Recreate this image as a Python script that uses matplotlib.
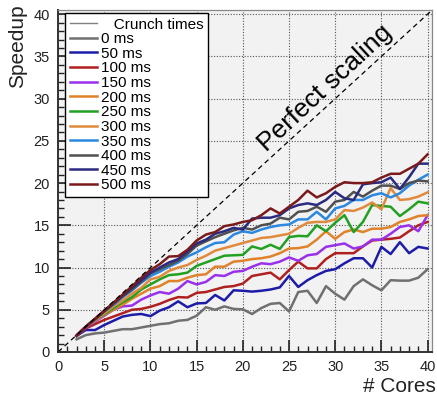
import numpy as np
import matplotlib
matplotlib.use("Agg")
import matplotlib.pyplot as plt
from matplotlib.ticker import MultipleLocator

plt.rcParams['font.family'] = ['Liberation Sans', 'DejaVu Sans']

cores = list(range(2, 41))

labels = ["0 ms", "50 ms", "100 ms", "150 ms", "200 ms", "250 ms",
          "300 ms", "350 ms", "400 ms", "450 ms", "500 ms"]
colors = ["#707070", "#1c1ca8", "#b02020", "#9a30ea", "#e0822a", "#22a022",
          "#e08a3c", "#2a88e0", "#505050", "#2a2a80", "#7a1a1a"]

speedup_0 = [1.5, 2.0, 2.2, 2.3, 2.5, 2.7, 2.7, 2.9, 3.1, 3.3, 3.4, 3.7, 3.8, 4.3, 5.3,
             5.0, 5.4, 5.1, 5.05, 4.5, 5.2, 5.7, 5.8, 4.8, 7.1, 7.25, 5.8, 7.8, 6.9,
             6.2, 7.8, 8.6, 7.9, 7.3, 8.5, 8.45, 8.45, 8.8, 9.8]
speedup_50 = [1.9, 2.6, 2.6, 3.2, 3.7, 4.2, 4.4, 4.5, 4.25, 4.9, 5.3, 6.0, 5.3, 5.75,
              5.8, 6.75, 6.1, 7.3, 7.25, 7.15, 7.25, 7.4, 7.65, 9.0, 7.7, 8.5, 9.1,
              9.6, 9.8, 10.5, 11.1, 11.1, 10.0, 12.45, 11.6, 13.0, 11.7, 12.45, 12.25]
speedup_100 = [1.9, 2.8, 3.3, 3.8, 4.2, 4.6, 5.0, 5.1, 5.35, 5.7, 6.15, 6.5, 6.45, 7.0,
               7.1, 7.4, 7.7, 7.8, 8.1, 9.0, 9.2, 9.4, 8.6, 9.7, 10.7, 9.9, 9.9, 11.0,
               11.7, 11.7, 11.7, 12.5, 13.2, 13.3, 13.4, 13.55, 14.3, 15.0, 15.4]
speedup_150 = [1.9, 2.9, 3.6, 4.3, 5.0, 5.4, 5.5, 6.2, 6.7, 7.1, 6.9, 7.5, 8.4, 8.0,
               8.3, 9.1, 9.0, 9.5, 9.6, 10.1, 10.5, 10.4, 10.7, 11.2, 10.8, 11.45,
               11.6, 12.45, 12.65, 12.85, 12.25, 12.5, 13.3, 13.3, 14.0, 14.8, 15.0,
               14.3, 16.2]
speedup_200 = [1.9, 3.0, 3.7, 4.4, 5.0, 5.6, 6.3, 6.9, 7.5, 7.8, 8.4, 8.4, 8.8, 9.1,
               9.2, 10.1, 10.1, 10.7, 10.8, 11.0, 11.1, 11.3, 11.7, 12.25, 12.3, 12.5,
               13.3, 14.3, 13.4, 14.2, 14.5, 14.2, 14.6, 14.6, 14.8, 15.4, 15.7, 16.1,
               16.2]
speedup_250 = [1.9, 3.0, 3.8, 4.5, 5.2, 5.9, 6.5, 7.4, 8.0, 8.6, 9.1, 9.2, 9.4, 10.2,
               10.6, 11.0, 11.4, 11.45, 11.5, 12.5, 12.2, 12.7, 12.2, 13.6, 13.75,
               13.7, 15.0, 14.3, 15.3, 16.2, 14.2, 15.4, 17.4, 17.3, 17.2, 16.1, 16.9,
               17.8, 17.6]
speedup_300 = [1.95, 3.0, 3.8, 4.6, 5.4, 6.1, 6.9, 7.6, 8.6, 8.9, 9.6, 10.0, 10.3,
               10.9, 11.4, 12.0, 12.3, 12.6, 12.9, 13.2, 13.5, 13.6, 13.8, 14.0, 14.7,
               15.3, 15.4, 15.4, 15.7, 16.8, 16.7, 17.1, 17.7, 16.9, 19.4, 18.0, 18.1,
               18.4, 18.9]
speedup_350 = [1.95, 3.0, 3.9, 4.8, 5.6, 6.5, 7.3, 8.2, 9.0, 9.5, 10.1, 10.6, 11.3,
               11.8, 12.4, 12.9, 13.0, 13.9, 14.3, 14.1, 14.5, 14.8, 15.0, 15.1, 15.7,
               15.7, 16.6, 15.7, 17.0, 17.3, 18.0, 18.0, 18.55, 18.8, 18.3, 18.8,
               19.7, 20.4, 21.0]
speedup_400 = [1.95, 3.0, 3.9, 4.8, 5.7, 6.6, 7.4, 8.3, 9.3, 9.8, 10.3, 10.8, 11.6,
               12.6, 13.1, 13.6, 14.0, 14.4, 14.7, 14.5, 15.0, 15.2, 15.9, 15.7, 16.6,
               16.7, 17.2, 16.6, 17.8, 18.0, 18.95, 18.4, 19.1, 19.7, 19.7, 19.3,
               20.0, 20.3, 20.2]
speedup_450 = [1.95, 3.0, 3.9, 4.85, 5.8, 6.7, 7.6, 8.5, 9.4, 10.0, 10.6, 11.0, 11.9,
               12.85, 13.3, 14.0, 14.3, 14.7, 14.5, 15.8, 15.9, 15.9, 16.2, 17.0, 17.4,
               17.6, 17.4, 18.0, 18.95, 18.2, 18.0, 19.85, 20.0, 20.1, 20.65, 19.3,
               20.7, 22.3, 22.3]
speedup_500 = [1.95, 3.0, 3.95, 4.9, 5.85, 6.8, 7.8, 8.8, 9.7, 10.4, 11.3, 11.35,
               12.1, 13.2, 13.9, 14.2, 14.9, 15.1, 15.4, 15.6, 16.2, 17.0, 16.4, 17.2,
               18.0, 19.1, 18.3, 18.8, 19.55, 20.1, 20.0, 20.0, 20.1, 20.65, 21.1,
               21.1, 21.7, 22.3, 23.4]

series = [speedup_0, speedup_50, speedup_100, speedup_150, speedup_200, speedup_250,
          speedup_300, speedup_350, speedup_400, speedup_450, speedup_500]

fig = plt.figure(figsize=(4.37, 3.98), dpi=100)
ax = fig.add_axes([0.133, 0.1156, 0.856, 0.8594])
ax.set_facecolor("#f2f2f2")

# header entry of the legend
ax.plot([], [], color="#808080", lw=1.0, label="   Crunch times")
for vals, lab, col in zip(series, labels, colors):
    ax.plot(cores, vals, color=col, lw=1.8, label=lab)

diag = np.array([0, 40.5])
ax.plot(diag, diag, color="black", lw=0.9, ls=(0, (4, 3)))
ax.text(28.9, 31.2, "Perfect scaling", rotation=43, fontsize=19,
        ha="center", va="center", rotation_mode="anchor")

ax.set_xlim(0, 40.5)
ax.set_ylim(0, 40.5)
ax.xaxis.set_major_locator(MultipleLocator(5))
ax.xaxis.set_minor_locator(MultipleLocator(1))
ax.yaxis.set_major_locator(MultipleLocator(5))
ax.yaxis.set_minor_locator(MultipleLocator(1))
ax.tick_params(which="major", direction="in", length=9, width=1.2, labelsize=10.5,
               colors="#222222", pad=6)
ax.tick_params(which="minor", direction="in", length=4.5, width=1.0, colors="#222222")
ax.grid(True, which="major", ls=(0, (1, 1.5)), color="#555555", lw=0.8)
for side in ["left", "bottom"]:
    ax.spines[side].set_color("#333333")
    ax.spines[side].set_linewidth(1.4)
for side in ["top", "right"]:
    ax.spines[side].set_color("#888888")
    ax.spines[side].set_linewidth(0.9)

fig.text(0.04, 0.99, "Speedup", rotation=90, ha="center", va="top", fontsize=15,
         color="#222222")
fig.text(0.997, 0.028, "# Cores", ha="right", va="center", fontsize=15,
         color="#222222")

leg = ax.legend(loc="upper left", bbox_to_anchor=(0.019, 0.991), borderaxespad=0,
                fontsize=11, labelspacing=0.04, handlelength=1.75, handletextpad=0.3,
                fancybox=False, framealpha=1, edgecolor="black", borderpad=0.3)
leg.get_frame().set_linewidth(1.0)

fig.savefig("out.png", dpi=100)
